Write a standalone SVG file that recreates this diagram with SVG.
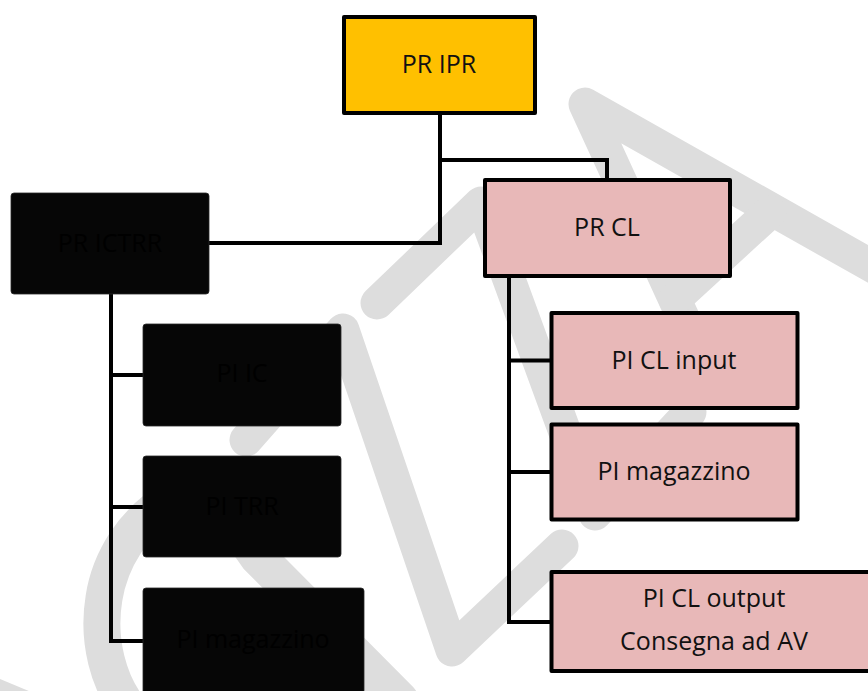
<svg xmlns="http://www.w3.org/2000/svg" width="868" height="691" viewBox="0 0 868 691">
<style>
.wm{fill:none;stroke:#dddddd;stroke-width:33;stroke-linecap:round;stroke-linejoin:round}
.wmo{fill:none;stroke:#dddddd;stroke-width:37;stroke-linecap:round}
.ln{fill:none;stroke:#000;stroke-width:4;stroke-linejoin:miter}
.box{stroke:#000;stroke-width:4;stroke-linejoin:round}
.yl{fill:#FFC000}
.pk{fill:#E8B8B8}
.bk{fill:#060606;stroke:#2a2a2a;stroke-width:0.8}
text{font-family:"Open Sans","Noto Sans","Liberation Sans",sans-serif;font-size:25px;text-anchor:middle;fill:#111}
.bt{fill:#000}
</style>
<rect width="868" height="691" fill="#fff"/>
<g id="watermark">
<path class="wm" d="M-40,680 L60,722"/>
<path class="wmo" d="M132,712 C108,684 97,640 104,598 C110,560 133,522 170,500 C205,482 232,520 258,557 L400,700"/>
<path class="wm" d="M246,440 L343,330 L452,650 L562,546"/>
<path class="wm" d="M377,303 L481,203 L595,514 L690,412"/>
<path class="wm" d="M714,385 L585,104 L900,282"/>
<path class="wm" d="M770,212 L675,299"/>
</g>
<g id="connectors">
<path class="ln" d="M440,113 V243 H209"/>
<path class="ln" d="M440,160 H607 V179"/>
<path class="ln" d="M111,294 V641 H143 M111,375 H143 M111,507 H143"/>
<path class="ln" d="M509,277 V622 H551 M509,360.5 H551 M509,472 H551"/>
</g>
<g id="pr-ipr"><rect class="box yl" x="344" y="17" width="191" height="96"/><text x="439" y="73">PR IPR</text></g>
<g id="pr-cl"><rect class="box pk" x="485" y="180" width="245" height="96"/><text x="607" y="236">PR CL</text></g>
<g id="pr-ictrr"><rect class="bk" x="11" y="193" width="198" height="101" rx="3"/><text class="bt" x="110" y="252">PR ICTRR</text></g>
<g id="pi-ic"><rect class="bk" x="143" y="324" width="198" height="102" rx="3"/><text class="bt" x="242" y="382">PI IC</text></g>
<g id="pi-trr"><rect class="bk" x="143" y="456" width="198" height="101" rx="3"/><text class="bt" x="242" y="515">PI TRR</text></g>
<g id="pi-magazzino-1"><rect class="bk" x="143" y="588" width="221" height="112" rx="3"/><text class="bt" x="253" y="648">PI magazzino</text></g>
<g id="pi-cl-input"><rect class="box pk" x="551.5" y="313" width="246" height="95"/><text x="674" y="369">PI CL input</text></g>
<g id="pi-magazzino-2"><rect class="box pk" x="551.5" y="424.5" width="246" height="95"/><text x="674" y="480">PI magazzino</text></g>
<g id="pi-cl-output"><rect class="box pk" x="551.5" y="572" width="330" height="99"/><text x="714" y="607">PI CL output</text><text x="714" y="650">Consegna ad AV</text></g>
</svg>
